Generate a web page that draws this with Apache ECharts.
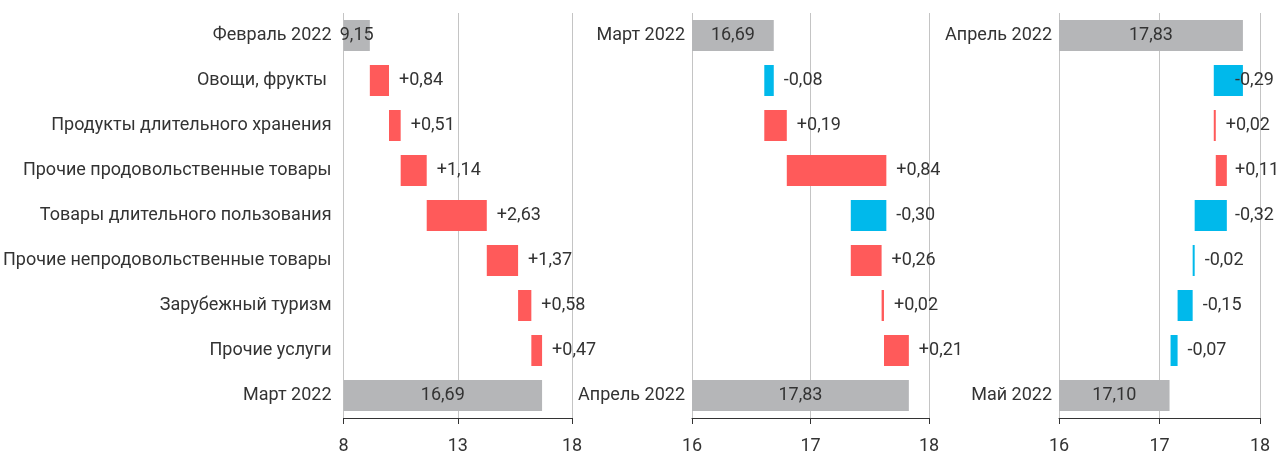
<!DOCTYPE html>
<html>
<head>
<meta charset="utf-8">
<script src="https://cdn.jsdelivr.net/npm/echarts@6/dist/echarts.min.js"></script>
<style>
 html, body { margin:0; padding:0; background:#fff; }
 #chart { width:1285px; height:455px; }
</style>
</head>
<body>
<div id="chart"></div>
<script>
// категории (строки) и данные
var rowNames = ['Овощи, фрукты ', 'Продукты длительного хранения', 'Прочие продовольственные товары',
  'Товары длительного пользования', 'Прочие непродовольственные товары', 'Зарубежный туризм', 'Прочие услуги'];
var months = ['Февраль 2022', 'Март 2022', 'Апрель 2022', 'Май 2022'];
var totals = [9.15, 16.69, 17.83, 17.10];
var changesMar = [0.84, 0.51, 1.14, 2.63, 1.37, 0.58, 0.47];
var changesApr = [-0.08, 0.19, 0.84, -0.30, 0.26, 0.02, 0.21];
var changesMay = [-0.29, 0.02, 0.11, -0.32, -0.02, -0.15, -0.07];
var axisMin = [8, 16, 16];
var axisMax = [18, 18, 18];
var axisStep = [5, 1, 1];

window.onload = function(){
 var chart = echarts.init(document.getElementById('chart'));
 var font = 'Roboto';
 var fs = 18;
 var textColor = '#333';
 var red = '#ff5a5a', blue = '#00b9eb', gray = '#b5b6b8';

 function fmt(v){ return v.toFixed(2).replace('.', ','); }

 var grids = [
   {left:342, top:13, width:230, height:406},
   {left:692, top:13, width:237, height:406},
   {left:1059, top:13, width:201, height:406}
 ];
 var spaceAfter = [120, 130, 25];   // свободное место справа от панели, px
 var changes = [changesMar, changesApr, changesMay];

 var xAxes = [], yAxes = [], series = [];
 for (var p = 0; p < 3; p++) {
   var cats = [months[p]].concat(rowNames).concat([months[p + 1]]);
   var base = [0], up = ['-'], down = ['-'], total = [totals[p]];
   var cur = totals[p];
   var pxPerUnit = grids[p].width / (axisMax[p] - axisMin[p]);
   changes[p].forEach(function(d){
     var next = Math.round((cur + d) * 100) / 100;
     var right = Math.max(cur, next);
     var room = (axisMax[p] - right) * pxPerUnit + spaceAfter[p];
     var item = {value: Math.abs(d), label:{distance: Math.min(10, room - 50)}};
     base.push(Math.min(cur, next));
     up.push(d > 0 ? item : '-');
     down.push(d < 0 ? item : '-');
     total.push('-');
     cur = next;
   });
   base.push(0); up.push('-'); down.push('-'); total.push(totals[p + 1]);

   xAxes.push({
     type:'value', gridIndex:p, min:axisMin[p], max:axisMax[p], interval:axisStep[p],
     axisLine:{show:true, lineStyle:{color:'#333', width:1}},
     axisTick:{show:true, length:6, lineStyle:{color:'#333'}},
     splitLine:{show:true, lineStyle:{color:'#c4c4c4', width:1}},
     axisLabel:{color:textColor, fontFamily:font, fontSize:fs, margin:19}
   });
   (function(pi){
     yAxes.push({
       type:'category', gridIndex:pi, inverse:true, data:cats,
       axisLine:{show:false}, axisTick:{show:false},
       axisLabel:{
         color:textColor, fontFamily:font, fontSize:fs, margin: pi === 0 ? 12 : 7,
         interval:0,
         formatter:function(v, i){ return (pi === 0 || i === 0 || i === 8) ? v : ''; }
       }
     });
   })(p);

   var st = 'w' + p;
   series.push({
     type:'bar', xAxisIndex:p, yAxisIndex:p, stack:st, barWidth:31, silent:true,
     itemStyle:{color:'rgba(0,0,0,0)'}, data:base
   });
   series.push({
     type:'bar', xAxisIndex:p, yAxisIndex:p, stack:st, barWidth:31,
     itemStyle:{color:gray}, data:total,
     label:{show:true, position:'inside', color:textColor, fontFamily:font, fontSize:fs,
       formatter:function(pr){ return fmt(pr.value); }}
   });
   series.push({
     type:'bar', xAxisIndex:p, yAxisIndex:p, stack:st, barWidth:31,
     itemStyle:{color:red}, data:up,
     label:{show:true, position:'right', distance:10, color:textColor, fontFamily:font, fontSize:fs,
       formatter:function(pr){ return '+' + fmt(pr.value); }}
   });
   series.push({
     type:'bar', xAxisIndex:p, yAxisIndex:p, stack:st, barWidth:31,
     itemStyle:{color:blue}, data:down,
     label:{show:true, position:'right', distance:10, color:textColor, fontFamily:font, fontSize:fs,
       formatter:function(pr){ return '-' + fmt(pr.value); }}
   });
 }

 chart.setOption({
   animation:false,
   grid:grids,
   xAxis:xAxes,
   yAxis:yAxes,
   series:series
 });
};
</script>
</body>
</html>
